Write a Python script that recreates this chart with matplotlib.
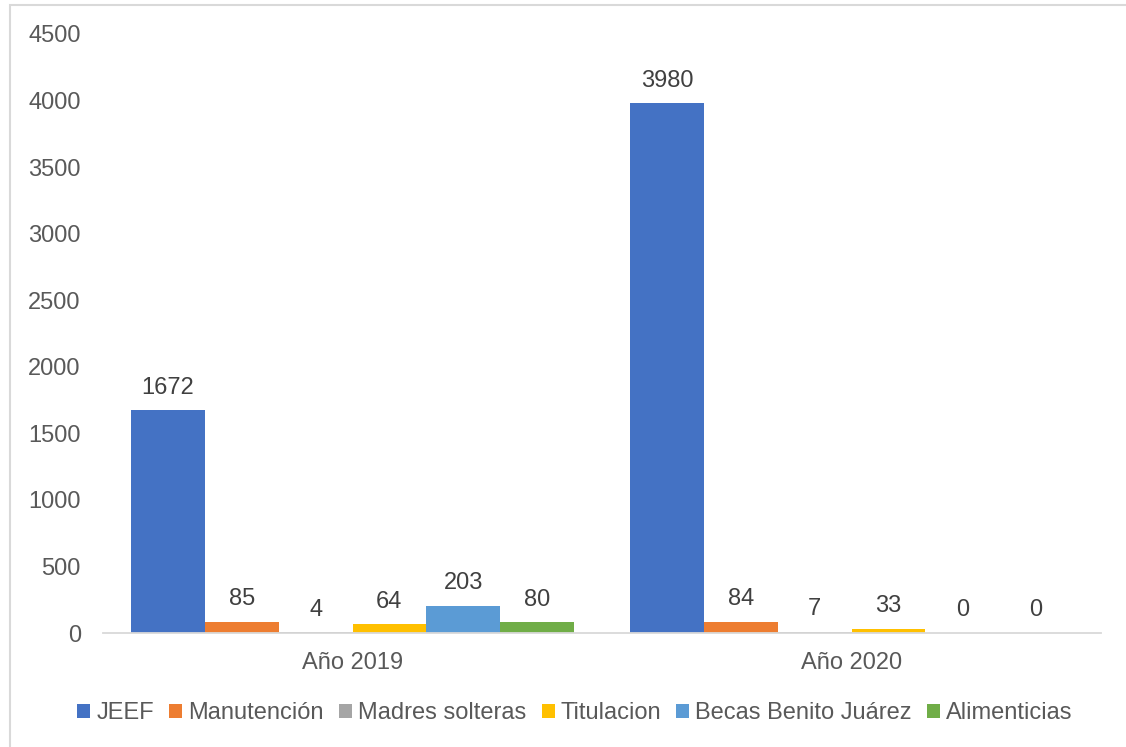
import matplotlib.pyplot as plt
import matplotlib.patches as patches
import numpy as np

plt.rcParams['font.family'] = ['Liberation Sans', 'DejaVu Sans']

# data
years = ['Año 2019', 'Año 2020']
series = ['JEEF', 'Manutención', 'Madres solteras', 'Titulacion',
          'Becas Benito Juárez', 'Alimenticias']
values = {
    'JEEF': [1672, 3980],
    'Manutención': [85, 84],
    'Madres solteras': [4, 7],
    'Titulacion': [64, 33],
    'Becas Benito Juárez': [203, 0],
    'Alimenticias': [80, 0],
}
colors = ['#4472C4', '#ED7D31', '#A5A5A5', '#FFC000', '#5B9BD5', '#70AD47']
yticks = [0, 500, 1000, 1500, 2000, 2500, 3000, 3500, 4000, 4500]

txt_col = '#595959'
fs = 17

fig = plt.figure(figsize=(11.26, 7.47), dpi=100)
ax = fig.add_axes([103 / 1126, 1 - 633 / 747, (1101 - 103) / 1126, (633 - 34) / 747])

x = np.arange(len(years))
bw = 0.148
n = len(series)
handles = []
for i, name in enumerate(series):
    pos = x + (i - (n - 1) / 2) * bw
    bars = ax.bar(pos, values[name], bw, color=colors[i], label=name)
    for b, v in zip(bars, values[name]):
        ax.annotate(str(v), (b.get_x() + b.get_width() / 2, v),
                    xytext=(0, 12), textcoords='offset points',
                    ha='center', va='baseline', fontsize=fs, color='#404040')
    handles.append(bars)

ax.set_xlim(-0.5, 1.5)
ax.set_ylim(0, 4500)
ax.set_yticks(yticks)
ax.set_xticks(x)
ax.set_xticklabels(years)
ax.tick_params(axis='both', length=0, labelsize=fs, colors=txt_col)
ax.tick_params(axis='y', pad=16)
ax.tick_params(axis='x', pad=14)
for s in ['top', 'right', 'left']:
    ax.spines[s].set_visible(False)
ax.spines['bottom'].set_color('#D9D9D9')
ax.spines['bottom'].set_linewidth(1.3)

leg = fig.legend(handles, series, loc='center', bbox_to_anchor=(575 / 1126, 1 - 713 / 747),
                 ncol=6, frameon=False, fontsize=fs, handlelength=0.55, handleheight=0.55,
                 handletextpad=0.25, columnspacing=0.65, borderaxespad=0)
for t in leg.get_texts():
    t.set_color(txt_col)

# chart border
fig.add_artist(patches.Rectangle((10 / 1126, -0.01), 1.1, 1 - 5 / 747 + 0.01,
                                 transform=fig.transFigure, fill=False,
                                 edgecolor='#D9D9D9', linewidth=1.5))

fig.savefig('out.png', dpi=100)
